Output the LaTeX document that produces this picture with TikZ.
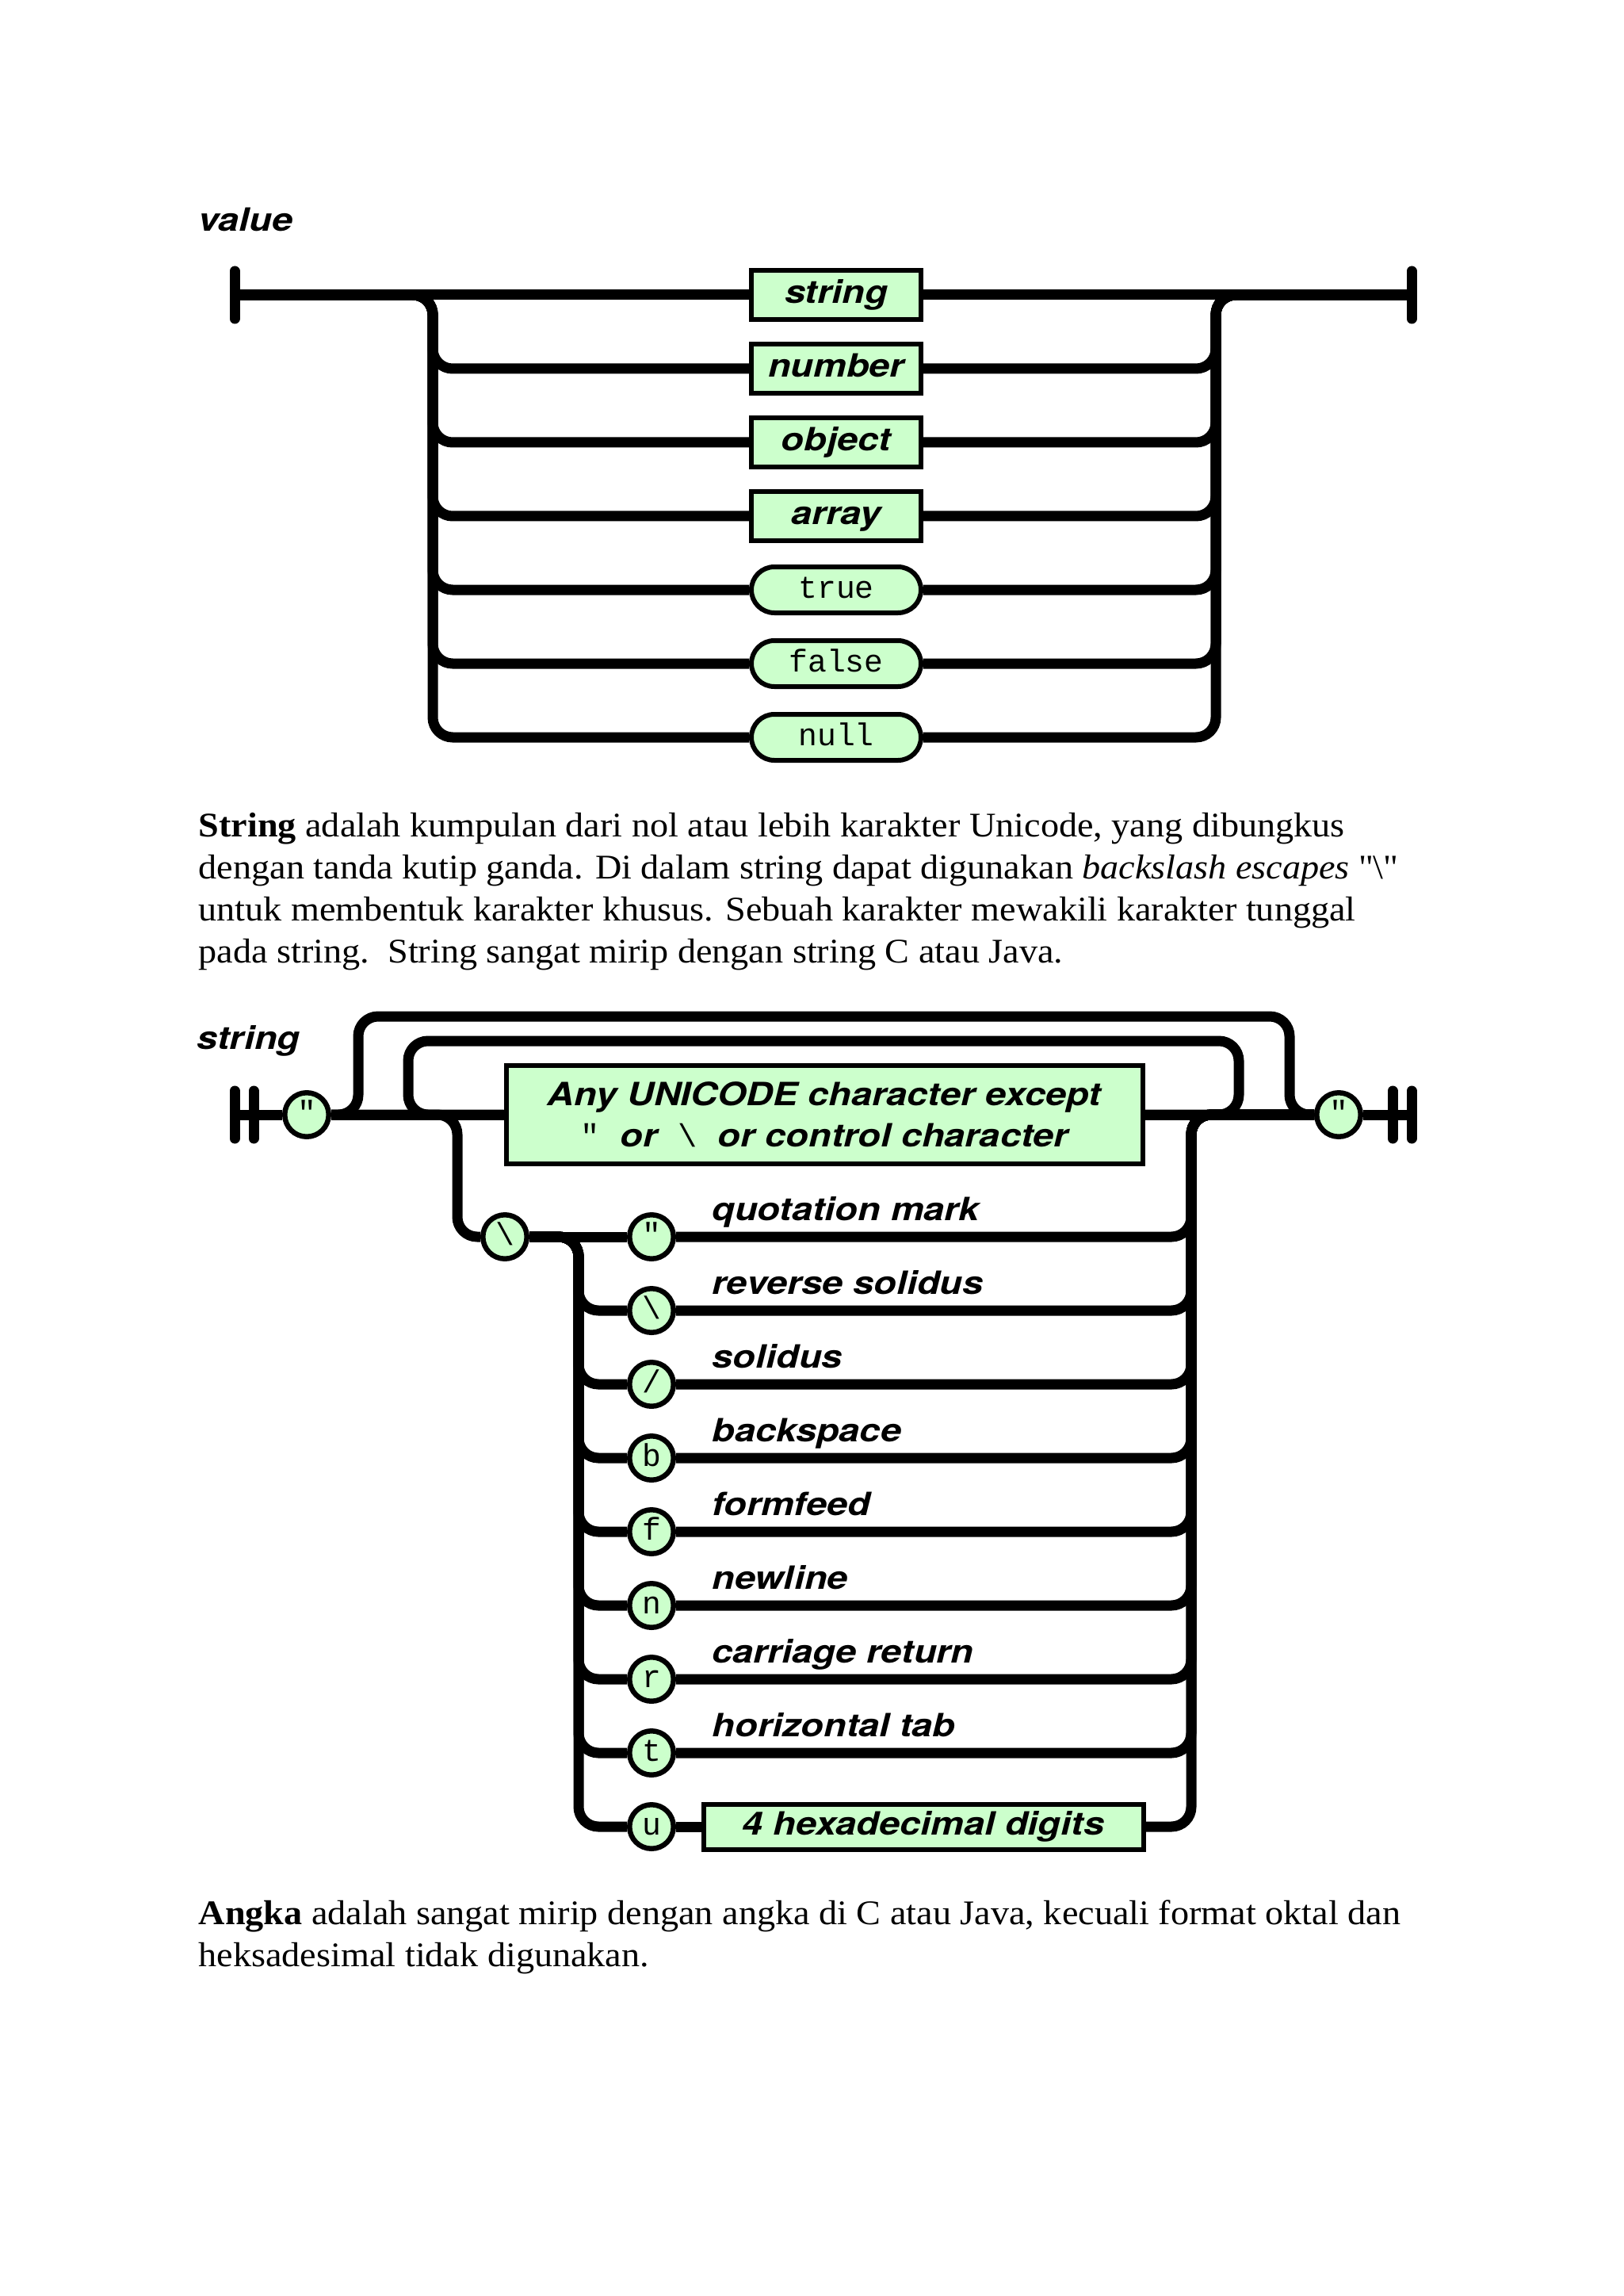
\documentclass[tikz,border=0pt]{standalone}
\usepackage{fontspec}
\setmainfont{Liberation Serif}[FakeStretch=1.06]
\newfontfamily\railfont{TeX Gyre Heros}[FakeStretch=1.16]
\newfontfamily\monofont{Liberation Mono}

\definecolor{railgreen}{RGB}{204,255,204}

\newcommand{\railtext}{\railfont\bfseries\itshape\fontsize{11.5}{13.6}\selectfont}
\newcommand{\monotext}{\monofont\fontsize{11.3}{13}\selectfont}
\newcommand{\paratext}{\fontsize{12.4}{14}\selectfont}

\tikzset{
  railline/.style={line width=1.3mm, rounded corners=2.5mm},
  endbar/.style={line width=1.3mm, line cap=round},
  boxed/.style={draw, rectangle, line width=0.6mm, fill=railgreen, inner sep=0pt,
    minimum width=21.4mm, minimum height=6.2mm, text height=2.9mm, text depth=0.8mm,
    font=\railtext},
  pill/.style={boxed, rounded corners=2.9mm, minimum height=5.8mm, font=\monotext},
  roundchar/.style={draw, circle, line width=0.65mm, fill=railgreen, inner sep=0pt,
    minimum size=5.55mm, text height=2.9mm, text depth=0.8mm, font=\monotext},
  esclabel/.style={anchor=base west, inner sep=0pt, font=\railtext},
  heading/.style={esclabel},
  bodyline/.style={anchor=base west, inner sep=0pt, font=\paratext}
}

\begin{document}
\begin{tikzpicture}

  \useasboundingbox (0, 0) rectangle (20.48, -28.96);

  % value
  \node [heading] (valuetitle) at (2.50, -2.92) {value};

  \coordinate (vstart) at (2.96, -3.72);
  \coordinate (vend)   at (17.81, -3.72);
  \coordinate (vleft)  at (5.46, -3.72);
  \coordinate (vright) at (15.34, -3.72);

  \node [boxed] (vstring) at (10.55, -3.72) {string};
  \node [boxed] (vnumber) at (10.55, -4.65) {number};
  \node [boxed] (vobject) at (10.55, -5.58) {object};
  \node [boxed] (varray)  at (10.55, -6.51) {array};
  \node [pill]  (vtrue)   at (10.55, -7.44) {true};
  \node [pill]  (vfalse)  at (10.55, -8.37) {false};
  \node [pill]  (vnull)   at (10.55, -9.30) {null};

  \draw [endbar] ([yshift=3mm] vstart) -- ([yshift=-3mm] vstart);
  \draw [endbar] ([yshift=3mm] vend) -- ([yshift=-3mm] vend);

  \draw [railline] (vstart) -- (vstring.west);
  \draw [railline] (vstart) -| (vleft |- vnumber.west) -- (vnumber.west);
  \draw [railline] (vstart) -| (vleft |- vobject.west) -- (vobject.west);
  \draw [railline] (vstart) -| (vleft |- varray.west) -- (varray.west);
  \draw [railline] (vstart) -| (vleft |- vtrue.west) -- (vtrue.west);
  \draw [railline] (vstart) -| (vleft |- vfalse.west) -- (vfalse.west);
  \draw [railline] (vstart) -| (vleft |- vnull.west) -- (vnull.west);

  \draw [railline] (vstring.east) -- (vend);
  \draw [railline] (vnumber.east) -| (vright) -- (vend);
  \draw [railline] (vobject.east) -| (vright) -- (vend);
  \draw [railline] (varray.east) -| (vright) -- (vend);
  \draw [railline] (vtrue.east) -| (vright) -- (vend);
  \draw [railline] (vfalse.east) -| (vright) -- (vend);
  \draw [railline] (vnull.east) -| (vright) -- (vend);

  % paragraph on strings
  \node [bodyline] (para1a) at (2.50, -10.55) {\textbf{String} adalah kumpulan dari nol atau lebih karakter Unicode, yang dibungkus};
  \node [bodyline] (para1b) at (2.50, -11.08) {dengan tanda kutip ganda. Di dalam string dapat digunakan \textit{backslash escapes} \textquotedbl\textbackslash\textquotedbl};
  \node [bodyline] (para1c) at (2.50, -11.61) {untuk membentuk karakter khusus. Sebuah karakter mewakili karakter tunggal};
  \node [bodyline] (para1d) at (2.50, -12.14) {pada string.\ \ String sangat mirip dengan string C atau Java.};

  % string
  \node [heading] (stringtitle) at (2.48, -13.23) {string};

  \coordinate (sstart) at (2.96, -14.06);
  \coordinate (send)   at (17.57, -14.06);
  \coordinate (outerL) at (4.52, -12.82);
  \coordinate (outerR) at (16.27, -12.82);
  \coordinate (innerL) at (5.15, -13.13);
  \coordinate (innerR) at (15.63, -13.13);
  \coordinate (escdrop) at (5.77, -14.06);
  \coordinate (subrail) at (7.30, -15.60);
  \coordinate (erail)  at (15.03, -14.06);

  \node [roundchar] (q1) at (3.87, -14.06) {"};
  \node [boxed, minimum width=80.3mm, minimum height=12.4mm, text height=, text depth=,
         align=center] (chr) at (10.40, -14.06)
        {Any UNICODE character except\\[0.4mm]
         {\monofont\mdseries\upshape "}\ \ or\ \ {\monofont\mdseries\upshape\textbackslash}\ \ or control character};
  \node [roundchar] (q2) at (16.89, -14.06) {"};

  \node [roundchar] (esc) at (6.37, -15.60) {\textbackslash};

  \node [roundchar] (cquote)  at (8.22, -15.60) {"};
  \node [roundchar] (cbslash) at (8.22, -16.53) {\textbackslash};
  \node [roundchar] (cslash)  at (8.22, -17.46) {/};
  \node [roundchar] (cb)      at (8.22, -18.39) {b};
  \node [roundchar] (cf)      at (8.22, -19.32) {f};
  \node [roundchar] (cn)      at (8.22, -20.25) {n};
  \node [roundchar] (cr)      at (8.22, -21.18) {r};
  \node [roundchar] (ct)      at (8.22, -22.11) {t};
  \node [roundchar] (cu)      at (8.22, -23.04) {u};
  \node [boxed, minimum width=55.5mm, minimum height=5.7mm] (hex) at (11.65, -23.04) {4 hexadecimal digits};

  \node [esclabel] (lquote)  at (8.98, -15.39) {quotation mark};
  \node [esclabel] (lbslash) at (8.98, -16.32) {reverse solidus};
  \node [esclabel] (lslash)  at (8.98, -17.25) {solidus};
  \node [esclabel] (lb)      at (8.98, -18.18) {backspace};
  \node [esclabel] (lf)      at (8.98, -19.11) {formfeed};
  \node [esclabel] (ln)      at (8.98, -20.04) {newline};
  \node [esclabel] (lr)      at (8.98, -20.97) {carriage return};
  \node [esclabel] (lt)      at (8.98, -21.90) {horizontal tab};

  \draw [endbar] ([yshift=3mm] sstart) -- ([yshift=-3mm] sstart);
  \draw [endbar] ([xshift=2.4mm, yshift=3mm] sstart) -- ([xshift=2.4mm, yshift=-3mm] sstart);
  \draw [endbar] ([yshift=3mm] send) -- ([yshift=-3mm] send);
  \draw [endbar] ([xshift=2.4mm, yshift=3mm] send) -- ([xshift=2.4mm, yshift=-3mm] send);

  \draw [railline] (sstart) -- (q1.west);
  \draw [railline] (q1.east) -- (chr.west);
  \draw [railline] (chr.east) -- (q2.west);
  \draw [railline] (q2.east) -- ([xshift=2.4mm] send);

  \draw [railline] (q1.east) -| (outerL) -- (outerR) |- (q2.west);
  \draw [railline] (chr.east) -| (innerR) -- (innerL) |- (chr.west);
  \draw [railline] (q1.east) -| (escdrop |- esc.west) -- (esc.west);

  \draw [railline] (esc.east) -- (cquote.west);
  \draw [railline] (esc.east) -| (subrail |- cbslash.west) -- (cbslash.west);
  \draw [railline] (esc.east) -| (subrail |- cslash.west) -- (cslash.west);
  \draw [railline] (esc.east) -| (subrail |- cb.west) -- (cb.west);
  \draw [railline] (esc.east) -| (subrail |- cf.west) -- (cf.west);
  \draw [railline] (esc.east) -| (subrail |- cn.west) -- (cn.west);
  \draw [railline] (esc.east) -| (subrail |- cr.west) -- (cr.west);
  \draw [railline] (esc.east) -| (subrail |- ct.west) -- (ct.west);
  \draw [railline] (esc.east) -| (subrail |- cu.west) -- (cu.west);
  \draw [railline] (cu.east) -- (hex.west);

  \draw [railline] (cquote.east) -| (erail) -- (q2.west);
  \draw [railline] (cbslash.east) -| (erail) -- (q2.west);
  \draw [railline] (cslash.east) -| (erail) -- (q2.west);
  \draw [railline] (cb.east) -| (erail) -- (q2.west);
  \draw [railline] (cf.east) -| (erail) -- (q2.west);
  \draw [railline] (cn.east) -| (erail) -- (q2.west);
  \draw [railline] (cr.east) -| (erail) -- (q2.west);
  \draw [railline] (ct.east) -| (erail) -- (q2.west);
  \draw [railline] (hex.east) -| (erail) -- (q2.west);

  % paragraph on numbers
  \node [bodyline] (para2a) at (2.50, -24.27) {\textbf{Angka} adalah sangat mirip dengan angka di C atau Java, kecuali format oktal dan};
  \node [bodyline] (para2b) at (2.50, -24.80) {heksadesimal tidak digunakan.};

\end{tikzpicture}
\end{document}
